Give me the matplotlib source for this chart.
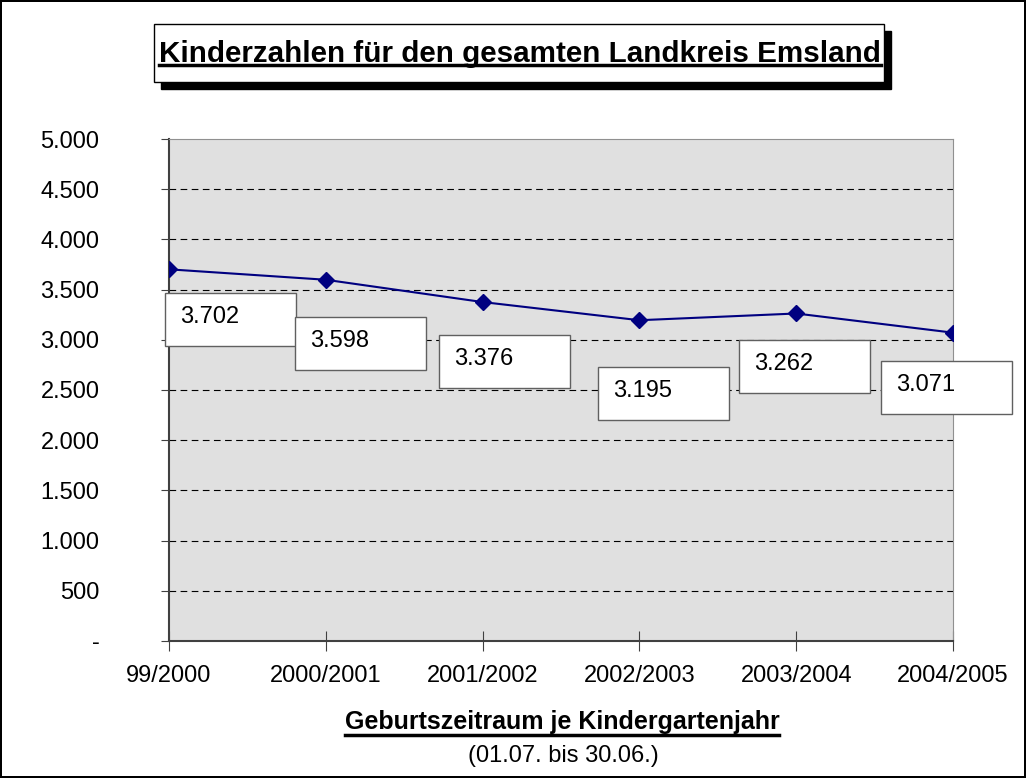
import matplotlib
matplotlib.use("Agg")
import matplotlib.pyplot as plt
import matplotlib.transforms as mtransforms
from matplotlib.patches import Rectangle
from matplotlib.lines import Line2D

# data
years = ["99/2000", "2000/2001", "2001/2002", "2002/2003", "2003/2004", "2004/2005"]
kinder = [3702, 3598, 3376, 3195, 3262, 3071]
y_ticks = [0, 500, 1000, 1500, 2000, 2500, 3000, 3500, 4000, 4500, 5000]

# label box offsets from each point in pixels (left, top)
label_offsets = [(-4, 24), (-31, 37), (-44, 33), (-41, 47), (-57, 27), (-72, 28)]

W, H = 1026, 778
plt.rcParams["font.family"] = ["Liberation Sans", "DejaVu Sans"]

fig = plt.figure(figsize=(W / 100, H / 100), dpi=100)
fig.patch.set_edgecolor("black")
fig.patch.set_linewidth(1.5)


def fx(x):
    return x / W


def fy(y):
    return 1 - y / H


def de(v):
    return f"{v:,}".replace(",", ".")


ax = fig.add_axes([fx(169), fy(641), fx(953) - fx(169), (641 - 139) / H])
ax.set_facecolor("#E0E0E0")

x = list(range(len(years)))
ax.plot(x, kinder, color="#000080", lw=1.5, marker="D", ms=8, zorder=3)

ax.set_xlim(0, len(years) - 1)
ax.set_ylim(0, 5000)
ax.set_xticks(x)
ax.set_xticklabels(years, fontsize=17)
ax.set_yticks(y_ticks)
ax.set_yticklabels(["-"] + [de(v) for v in y_ticks[1:]], fontsize=17)
ax.tick_params(axis="y", length=6, pad=44, color="#404040")
ax.tick_params(axis="x", direction="inout", length=14, pad=10, color="#404040")

for v in y_ticks[1:-1]:
    ax.axhline(v, color="black", lw=0.8, ls=(0, (6, 4)), zorder=1)

ax.spines["left"].set_color("#404040")
ax.spines["bottom"].set_color("#404040")
ax.spines["left"].set_linewidth(1.5)
ax.spines["bottom"].set_linewidth(1.5)
ax.spines["top"].set_color("#909090")
ax.spines["right"].set_color("#909090")

# data labels in white boxes
for xi, yi, (dx, dy) in zip(x, kinder, label_offsets):
    trans = fig.dpi_scale_trans + mtransforms.ScaledTranslation(xi, yi, ax.transData)
    ax.add_patch(Rectangle((dx / 100, -(dy + 53) / 100), 1.31, 0.53,
                           transform=trans, facecolor="white", edgecolor="#606060",
                           lw=1, zorder=4, clip_on=False))
    ax.text((dx + 15) / 100, -(dy + 24) / 100, de(yi),
            transform=trans, fontsize=17, va="center", ha="left", zorder=5)

# title box with shadow
fig.patches.append(Rectangle((fx(161), fy(89)), fx(884) - fx(154), 58 / H,
                             transform=fig.transFigure, facecolor="black", edgecolor="black"))
fig.patches.append(Rectangle((fx(154), fy(82)), fx(884) - fx(154), 58 / H,
                             transform=fig.transFigure, facecolor="white", edgecolor="black", lw=1))
title = fig.text(fx(520), fy(62), "Kinderzahlen für den gesamten Landkreis Emsland",
                 weight="bold", fontsize=21.3, ha="center", va="baseline")

xt1 = fig.text(fx(562), fy(729), "Geburtszeitraum je Kindergartenjahr",
               weight="bold", fontsize=18, ha="center", va="baseline")
fig.text(fx(563), fy(756), "(01.07. bis 30.06.)", fontsize=17, ha="center", va="center")

# underlines
renderer = fig.canvas.get_renderer()
for t, ypix in [(title, 65), (xt1, 735)]:
    bb = t.get_window_extent(renderer)
    fig.lines.append(Line2D([bb.x0 / W, bb.x1 / W], [fy(ypix)] * 2,
                            transform=fig.transFigure, color="black", lw=2.5))

fig.savefig("out.png", dpi=100, edgecolor=fig.get_edgecolor())
